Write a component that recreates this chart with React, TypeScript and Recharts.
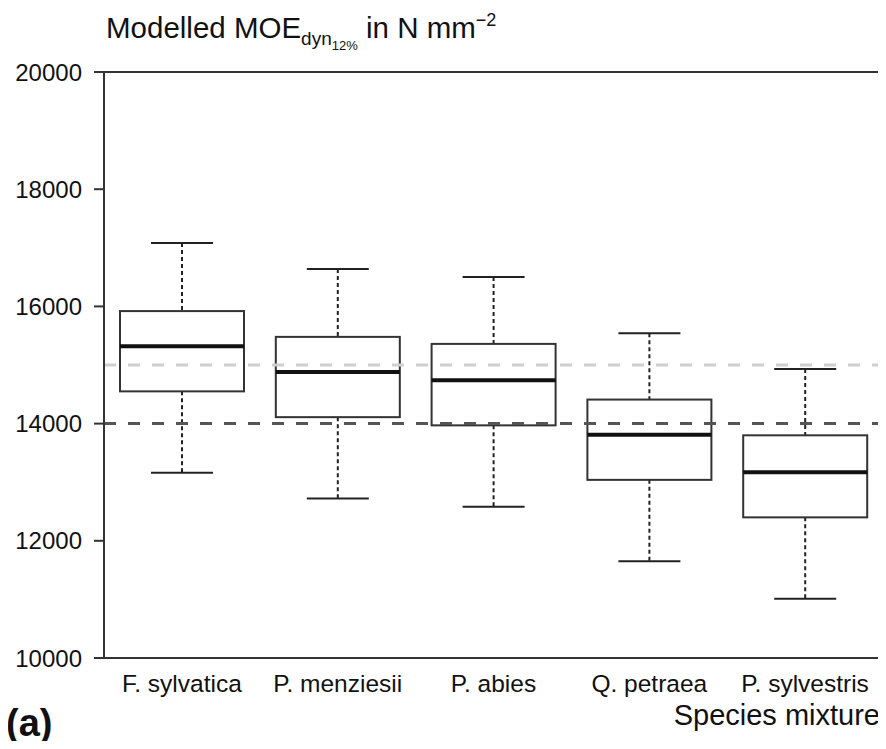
import React from "react";
import {
  ComposedChart,
  Bar,
  XAxis,
  YAxis,
  ReferenceLine,
} from "recharts";

const species = [
  "F. sylvatica",
  "P. menziesii",
  "P. abies",
  "Q. petraea",
  "P. sylvestris",
];
const whiskerLow = [13160, 12720, 12580, 11650, 11010];
const q1 = [14550, 14110, 13970, 13040, 12400];
const median = [15320, 14880, 14740, 13810, 13170];
const q3 = [15920, 15480, 15360, 14410, 13800];
const whiskerHigh = [17080, 16640, 16500, 15540, 14930];

const yTicks = [10000, 12000, 14000, 16000, 18000, 20000];
const refValues = [15000, 14000];

const FONT = "'Liberation Sans', Arial, Helvetica, sans-serif";
const INK = "#111";

const rows = species.map((name, i) => ({
  name,
  min: whiskerLow[i],
  q1: q1[i],
  median: median[i],
  q3: q3[i],
  max: whiskerHigh[i],
}));

// draws one box + whiskers; the bar spans min..max so we map values inside it
function BoxShape(props: any) {
  const { x, y, width, height, payload } = props;
  if (!payload) return null;
  const top = Math.min(y, y + height);
  const h = Math.abs(height);
  const span = payload.max - payload.min;
  const py = (v: number) => top + ((payload.max - v) / span) * h;
  const cx = x + width / 2;
  const cap = width / 4;
  return (
    <g>
      <line x1={cx} x2={cx} y1={py(payload.max)} y2={py(payload.q3)} stroke="#222" strokeWidth={2} strokeDasharray="4 3" />
      <line x1={cx} x2={cx} y1={py(payload.q1)} y2={py(payload.min)} stroke="#222" strokeWidth={2} strokeDasharray="4 3" />
      <line x1={cx - cap} x2={cx + cap} y1={py(payload.max)} y2={py(payload.max)} stroke="#222" strokeWidth={2} />
      <line x1={cx - cap} x2={cx + cap} y1={py(payload.min)} y2={py(payload.min)} stroke="#222" strokeWidth={2} />
      <rect
        x={x}
        y={py(payload.q3)}
        width={width}
        height={py(payload.q1) - py(payload.q3)}
        fill="#fff"
        stroke="#333"
        strokeWidth={2}
      />
      <line x1={x} x2={x + width} y1={py(payload.median)} y2={py(payload.median)} stroke="#111" strokeWidth={4} />
    </g>
  );
}

export default function App() {
  return (
    <div style={{ position: "relative", width: 886, height: 749, margin: -8, fontFamily: FONT }}>
      <ComposedChart
        width={886}
        height={749}
        data={rows}
        margin={{ top: 71, right: 2, bottom: 51, left: 0 }}
      >
        <XAxis
          dataKey="name"
          type="category"
          height={40}
          tickSize={0}
          tickMargin={17}
          tickLine={false}
          axisLine={{ stroke: "#333", strokeWidth: 2 }}
          tick={{ fontSize: 24.5, fill: INK, fontFamily: FONT }}
          interval={0}
        />
        <XAxis
          xAxisId="top"
          dataKey="name"
          orientation="top"
          height={1}
          tick={false}
          tickLine={false}
          axisLine={{ stroke: "#333", strokeWidth: 2 }}
        />
        <YAxis
          type="number"
          domain={[10000, 20000]}
          ticks={yTicks}
          interval={0}
          width={104}
          tickSize={10}
          tickMargin={12}
          tickLine={{ stroke: "#333", strokeWidth: 2 }}
          axisLine={{ stroke: "#333", strokeWidth: 2 }}
          tick={{ fontSize: 24, fill: INK, fontFamily: FONT }}
          allowDataOverflow
        />
        <YAxis
          yAxisId="right"
          orientation="right"
          type="number"
          domain={[10000, 20000]}
          width={1}
          tick={false}
          tickLine={false}
          axisLine={{ stroke: "#333", strokeWidth: 2 }}
        />
        <Bar
          dataKey={(d: any) => [d.min, d.max]}
          barSize={124}
          shape={BoxShape}
          isAnimationActive={false}
        />
        <ReferenceLine y={refValues[0]} stroke="#cfcfcf" strokeWidth={3} strokeDasharray="12 12" />
        <ReferenceLine y={refValues[1]} stroke="#555" strokeWidth={3} strokeDasharray="12 12" />
      </ComposedChart>
      <svg
        width={886}
        height={749}
        style={{ position: "absolute", left: 0, top: 0, pointerEvents: "none" }}
      >
        <text x={106} y={38} fontSize={29.5} fill={INK} fontFamily={FONT}>
          Modelled MOE
          <tspan fontSize={19} dy={7}>dyn</tspan>
          <tspan fontSize={13} dy={5}>12%</tspan>
          <tspan dy={-12}> in N mm</tspan>
          <tspan fontSize={18} dy={-12}>−2</tspan>
        </text>
        <text x={880} y={725} fontSize={29} fill={INK} fontFamily={FONT} textAnchor="end">
          Species mixture
        </text>
        <text x={6} y={736} fontSize={38} fontWeight="bold" fill={INK} fontFamily={FONT}>
          (a)
        </text>
      </svg>
    </div>
  );
}
